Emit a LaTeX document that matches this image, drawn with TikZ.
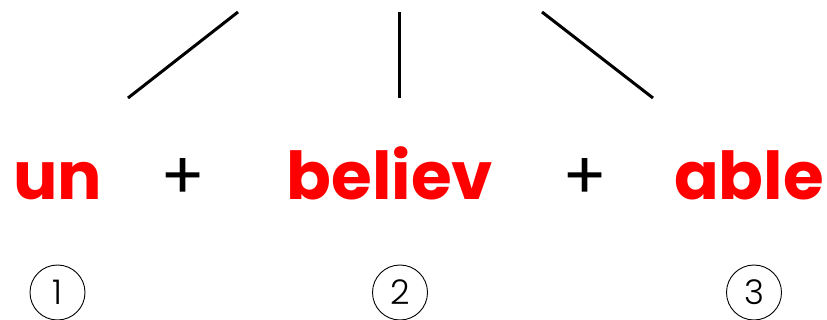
\documentclass[tikz,border=0pt]{standalone}
\usepackage{fontspec}
\usepackage{tikz}
\usepackage{xcolor}
\setmainfont{Poppins}
\newfontfamily\numfont{Poppins Light}
\definecolor{Morph_Red}{HTML}{FF0000}

\tikzset{
    morph/.style={anchor=base, text=Morph_Red, inner sep=0pt, font=\fontsize{66}{66}\selectfont\bfseries},
    joiner/.style={anchor=base, text=black, inner sep=0pt, font=\fontsize{66}{66}\selectfont},
    branch/.style={line width=3pt, black},
    numcirc/.style={circle, draw=black, line width=0.9pt, minimum size=55pt, inner sep=0pt, font=\numfont\fontsize{34}{34}\selectfont}
}

\begin{document}
\begin{tikzpicture}[x=1pt, y=-1pt]
    \useasboundingbox (0,0) rectangle (827,320);
    % Branch end points
    \coordinate (l1a) at (128,98);  \coordinate (l1b) at (238,12);
    \coordinate (l2a) at (399,98);  \coordinate (l2b) at (399,12);
    \coordinate (l3a) at (653,98);  \coordinate (l3b) at (542,12);
    % Branches
    \draw[branch] (l1a) -- (l1b);
    \draw[branch] (l2a) -- (l2b);
    \draw[branch] (l3a) -- (l3b);
    % Morphemes
    \node[morph] (un) at (57.5,200) {un};
    \node[joiner] (plusA) at (183,200) {+};
    \node[morph] (believ) at (390,200) {believ};
    \node[joiner] (plusB) at (585,200) {+};
    \node[morph] (able) at (749,200) {able};
    % Numbers
    \node[numcirc] (n1) at (57.5,292.5) {1};
    \node[numcirc] (n2) at (400,292.5) {2};
    \node[numcirc] (n3) at (754,292.5) {3};
\end{tikzpicture}
\end{document}
